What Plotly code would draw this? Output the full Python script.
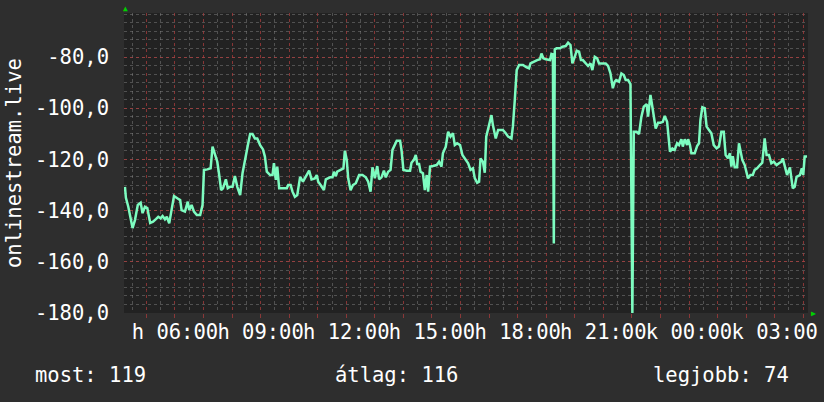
import pandas as pd
import plotly.graph_objects as go

# minutes since Monday 00:00
minutes = [
    255, 257, 262, 266, 271, 276, 280, 282, 288, 292, 297, 302, 308, 314, 320, 325,
    330, 334, 339, 343, 348, 353, 358, 365, 371, 374, 381, 387, 390, 395, 400, 406,
    413, 418, 421, 428, 435, 439, 444, 449, 453, 457, 461, 467, 471, 476, 481, 486,
    491, 497, 502, 509, 514, 518, 523, 528, 533, 539, 545, 549, 553, 560, 565, 568,
    572, 575, 579, 587, 595, 598, 603, 607, 612, 617, 623, 629, 635, 642, 647, 654,
    658, 661, 666, 673, 677, 686, 691, 694, 698, 701, 708, 714, 717, 721, 724, 729,
    734, 740, 747, 754, 761, 766, 771, 775, 780, 785, 789, 794, 799, 803, 808, 813,
    817, 826, 833, 836, 840, 847, 854, 857, 862, 866, 869, 873, 876, 881, 885, 889,
    892, 896, 902, 910, 915, 920, 923, 929, 934, 939, 944, 948, 953, 959, 964, 971,
    976, 981, 986, 990, 995, 999, 1002, 1007, 1011, 1014, 1020, 1025, 1028, 1034,
    1039, 1049, 1055, 1060, 1067, 1070, 1074, 1078, 1083, 1091, 1099, 1104, 1107,
    1114, 1121, 1127, 1130, 1134, 1139, 1148, 1151, 1154, 1156, 1158, 1162, 1169,
    1174, 1181, 1186, 1191, 1195, 1200, 1204, 1209, 1213, 1217, 1223, 1228, 1233,
    1237, 1242, 1247, 1251, 1265, 1270, 1275, 1280, 1284, 1287, 1293, 1298, 1303,
    1307, 1312, 1317, 1321, 1324, 1330, 1335, 1340, 1345, 1351, 1354, 1359, 1363,
    1366, 1370, 1375, 1380, 1385, 1389, 1394, 1400, 1405, 1410, 1415, 1419, 1424,
    1427, 1431, 1436, 1438, 1442, 1445, 1452, 1457, 1461, 1464, 1468, 1473, 1477,
    1482, 1487, 1492, 1498, 1503, 1508, 1513, 1517, 1522, 1526, 1529, 1532, 1536,
    1541, 1545, 1549, 1552, 1557, 1564, 1569, 1574, 1578, 1583, 1589, 1594, 1599,
    1603, 1608, 1613, 1618, 1624, 1629, 1634, 1637, 1641, 1646, 1652, 1655, 1658,
    1662, 1666, 1673, 1677, 1680, 1683, 1688,
]
values = [
    -130.7, -135.0, -138.5, -142.4, -146.8, -143.7, -139.0, -137.8, -136.9, -141.0,
    -138.5, -139.0, -144.8, -144.3, -143.3, -142.4, -143.0, -142.1, -143.4, -142.4,
    -145.0, -139.1, -134.3, -135.2, -135.9, -139.8, -140.4, -136.5, -139.8, -137.8,
    -140.4, -141.7, -141.7, -137.8, -124.1, -123.9, -123.5, -115.0, -117.6, -120.9,
    -126.1, -132.0, -131.3, -127.8, -131.3, -130.7, -130.7, -126.5, -130.7, -133.9,
    -125.4, -117.6, -113.7, -110.1, -110.1, -111.8, -111.8, -114.4, -116.1, -118.9,
    -124.8, -126.1, -126.1, -121.5, -128.0, -122.8, -131.3, -131.3, -131.3, -130.0,
    -130.0, -132.6, -134.6, -133.9, -126.8, -128.7, -126.8, -124.4, -127.8, -127.4,
    -126.1, -128.7, -130.0, -132.0, -127.8, -127.0, -127.0, -124.8, -126.5, -124.8,
    -124.1, -123.5, -116.6, -120.2, -127.4, -132.0, -130.0, -129.3, -126.1, -126.1,
    -127.0, -128.7, -132.6, -123.1, -127.4, -122.6, -127.8, -127.0, -124.4, -127.0,
    -124.8, -124.1, -116.3, -112.7, -112.7, -116.3, -124.1, -124.4, -124.4, -121.3,
    -120.2, -118.3, -121.8, -121.8, -124.8, -125.4, -132.0, -126.1, -132.6, -122.8,
    -122.6, -122.2, -120.9, -122.8, -117.6, -115.0, -109.2, -111.1, -109.8, -114.4,
    -113.7, -114.4, -118.3, -120.0, -121.5, -124.1, -123.5, -127.4, -129.1, -128.7,
    -119.6, -120.9, -125.2, -111.1, -105.9, -102.7, -106.6, -111.8, -108.5, -108.5,
    -109.8, -111.1, -111.8, -107.2, -96.8, -85.1, -83.1, -83.1, -84.0, -84.4, -82.5,
    -81.8, -81.2, -80.9, -78.6, -80.5, -80.9, -81.2, -78.8, -79.0, -152.8, -77.0,
    -76.6, -76.6, -76.0, -75.7, -74.4, -75.3, -82.5, -79.9, -77.5, -77.9, -81.2,
    -81.2, -82.5, -83.5, -82.5, -85.1, -79.9, -80.5, -82.5, -82.5, -83.5, -86.4,
    -92.2, -89.6, -89.0, -89.6, -86.4, -87.0, -89.0, -89.0, -90.6, -180.0, -109.2,
    -109.2, -110.1, -103.3, -99.4, -98.4, -103.3, -94.8, -99.4, -103.3, -107.9,
    -105.7, -105.7, -105.3, -103.0, -105.3, -117.0, -115.7, -116.3, -113.7, -114.4,
    -112.1, -115.0, -112.1, -114.4, -112.1, -114.4, -117.6, -117.6, -114.8, -113.7,
    -104.6, -99.6, -100.0, -107.2, -108.5, -109.8, -114.4, -115.7, -115.0, -109.2,
    -109.2, -118.3, -119.6, -117.6, -122.8, -118.7, -123.1, -123.1, -113.7, -117.9,
    -120.2, -122.2, -127.4, -126.1, -126.1, -124.1, -123.5, -122.2, -121.3, -111.8,
    -118.3, -118.3, -121.5, -120.9, -122.2, -121.5, -120.9, -119.6, -122.2, -126.1,
    -123.1, -126.8, -131.3, -130.7, -126.8, -126.1, -123.5, -126.1, -118.9, -118.9,
]

tick_times = ["2024-01-01 06:00", "2024-01-01 09:00", "2024-01-01 12:00", "2024-01-01 15:00",
              "2024-01-01 18:00", "2024-01-01 21:00", "2024-01-02 00:00", "2024-01-02 03:00"]
tick_labels = ["h 06:00", "h 09:00", "h 12:00", "h 15:00",
               "h 18:00", "h 21:00", "k 00:00", "k 03:00"]
y_ticks = [-180, -160, -140, -120, -100, -80]
y_labels = ["-180,0", "-160,0", "-140,0", "-120,0", "-100,0", "-80,0"]

series_name = "onlinestream.live"
stat_labels = ["most: 119", "átlag: 116", "legjobb: 74"]

start = pd.Timestamp("2024-01-01")
times = [start + pd.Timedelta(minutes=m) for m in minutes]
x_range = ["2024-01-01 04:13", "2024-01-02 04:10"]

FONT = "DejaVu Sans Mono"
FS = 20.5
RED = "rgba(170,60,60,0.75)"
GREY = "rgba(140,140,140,0.45)"
W, H = 824, 402
ML, MR, MT, MB = 124, 16, 13, 89
PW = W - ML - MR
PH = H - MT - MB


def px(x):
    return (x - ML) / PW


def py(y):
    return (H - MB - y) / PH


line = go.Scatter(
    x=times, y=values, mode="lines",
    line=dict(color="#7dfcc0", width=2.5),
    hoverinfo="skip", showlegend=False,
)
ghost = go.Scatter(
    x=times, y=values, mode="lines", xaxis="x2",
    line=dict(color="rgba(0,0,0,0)", width=0),
    hoverinfo="skip", showlegend=False,
)

fig = go.Figure(data=[ghost, line])
fig.update_layout(
    width=W, height=H,
    paper_bgcolor="#2e2e2e",
    plot_bgcolor="#222222",
    margin=dict(l=ML, r=MR, t=MT, b=MB),
    font=dict(family=FONT, size=FS, color="white"),
    xaxis=dict(
        type="date", range=x_range, automargin=False,
        tickmode="linear", tick0="2024-01-01 00:00", dtick=3600000,
        showticklabels=False, ticks="outside", ticklen=4, tickcolor=RED,
        showgrid=True, gridcolor=RED, griddash="dot", gridwidth=1,
        minor=dict(tick0="2024-01-01 00:30", dtick=1800000,
                   showgrid=True, gridcolor=GREY, griddash="dot", gridwidth=1),
        showline=False, zeroline=False,
    ),
    xaxis2=dict(
        type="date", range=x_range, overlaying="x", anchor="y", side="bottom",
        automargin=False,
        tickmode="array", tickvals=tick_times, ticktext=tick_labels, tickangle=0,
        showgrid=False, ticks="", showline=False, zeroline=False,
        ticklabelstandoff=4,
        tickfont=dict(family=FONT, size=FS, color="white"),
    ),
    yaxis=dict(
        range=[-180, -62.8], automargin=False,
        tickmode="array", tickvals=y_ticks, ticktext=y_labels,
        showgrid=True, gridcolor=RED, griddash="dot", gridwidth=1,
        minor=dict(tick0=-180, dtick=20 / 6,
                   showgrid=True, gridcolor=GREY, griddash="dot", gridwidth=1),
        ticks="", ticklabelstandoff=14, zeroline=False, showline=False,
        tickfont=dict(family=FONT, size=FS, color="white"),
    ),
    annotations=[
        dict(text=series_name, textangle=-90, xref="paper", yref="paper",
             x=px(14), y=0.5, xanchor="center", yanchor="middle", showarrow=False,
             font=dict(family=FONT, size=FS, color="white")),
        dict(text=stat_labels[0], xref="paper", yref="paper", x=px(33), y=py(375),
             xanchor="left", yanchor="middle", showarrow=False),
        dict(text=stat_labels[1], xref="paper", yref="paper", x=px(333), y=py(375),
             xanchor="left", yanchor="middle", showarrow=False),
        dict(text=stat_labels[2], xref="paper", yref="paper", x=px(791), y=py(375),
             xanchor="right", yanchor="middle", showarrow=False),
        dict(text="▲", xref="paper", yref="paper", x=px(125), y=py(9),
             xanchor="center", yanchor="middle", showarrow=False,
             font=dict(size=8, color="#00d000")),
        dict(text="▶", xref="paper", yref="paper", x=px(813), y=py(313),
             xanchor="center", yanchor="middle", showarrow=False,
             font=dict(size=8, color="#00d000")),
    ],
)

fig.write_html("out.html", config={"displayModeBar": False},
               post_script="document.body.style.margin='0';")
